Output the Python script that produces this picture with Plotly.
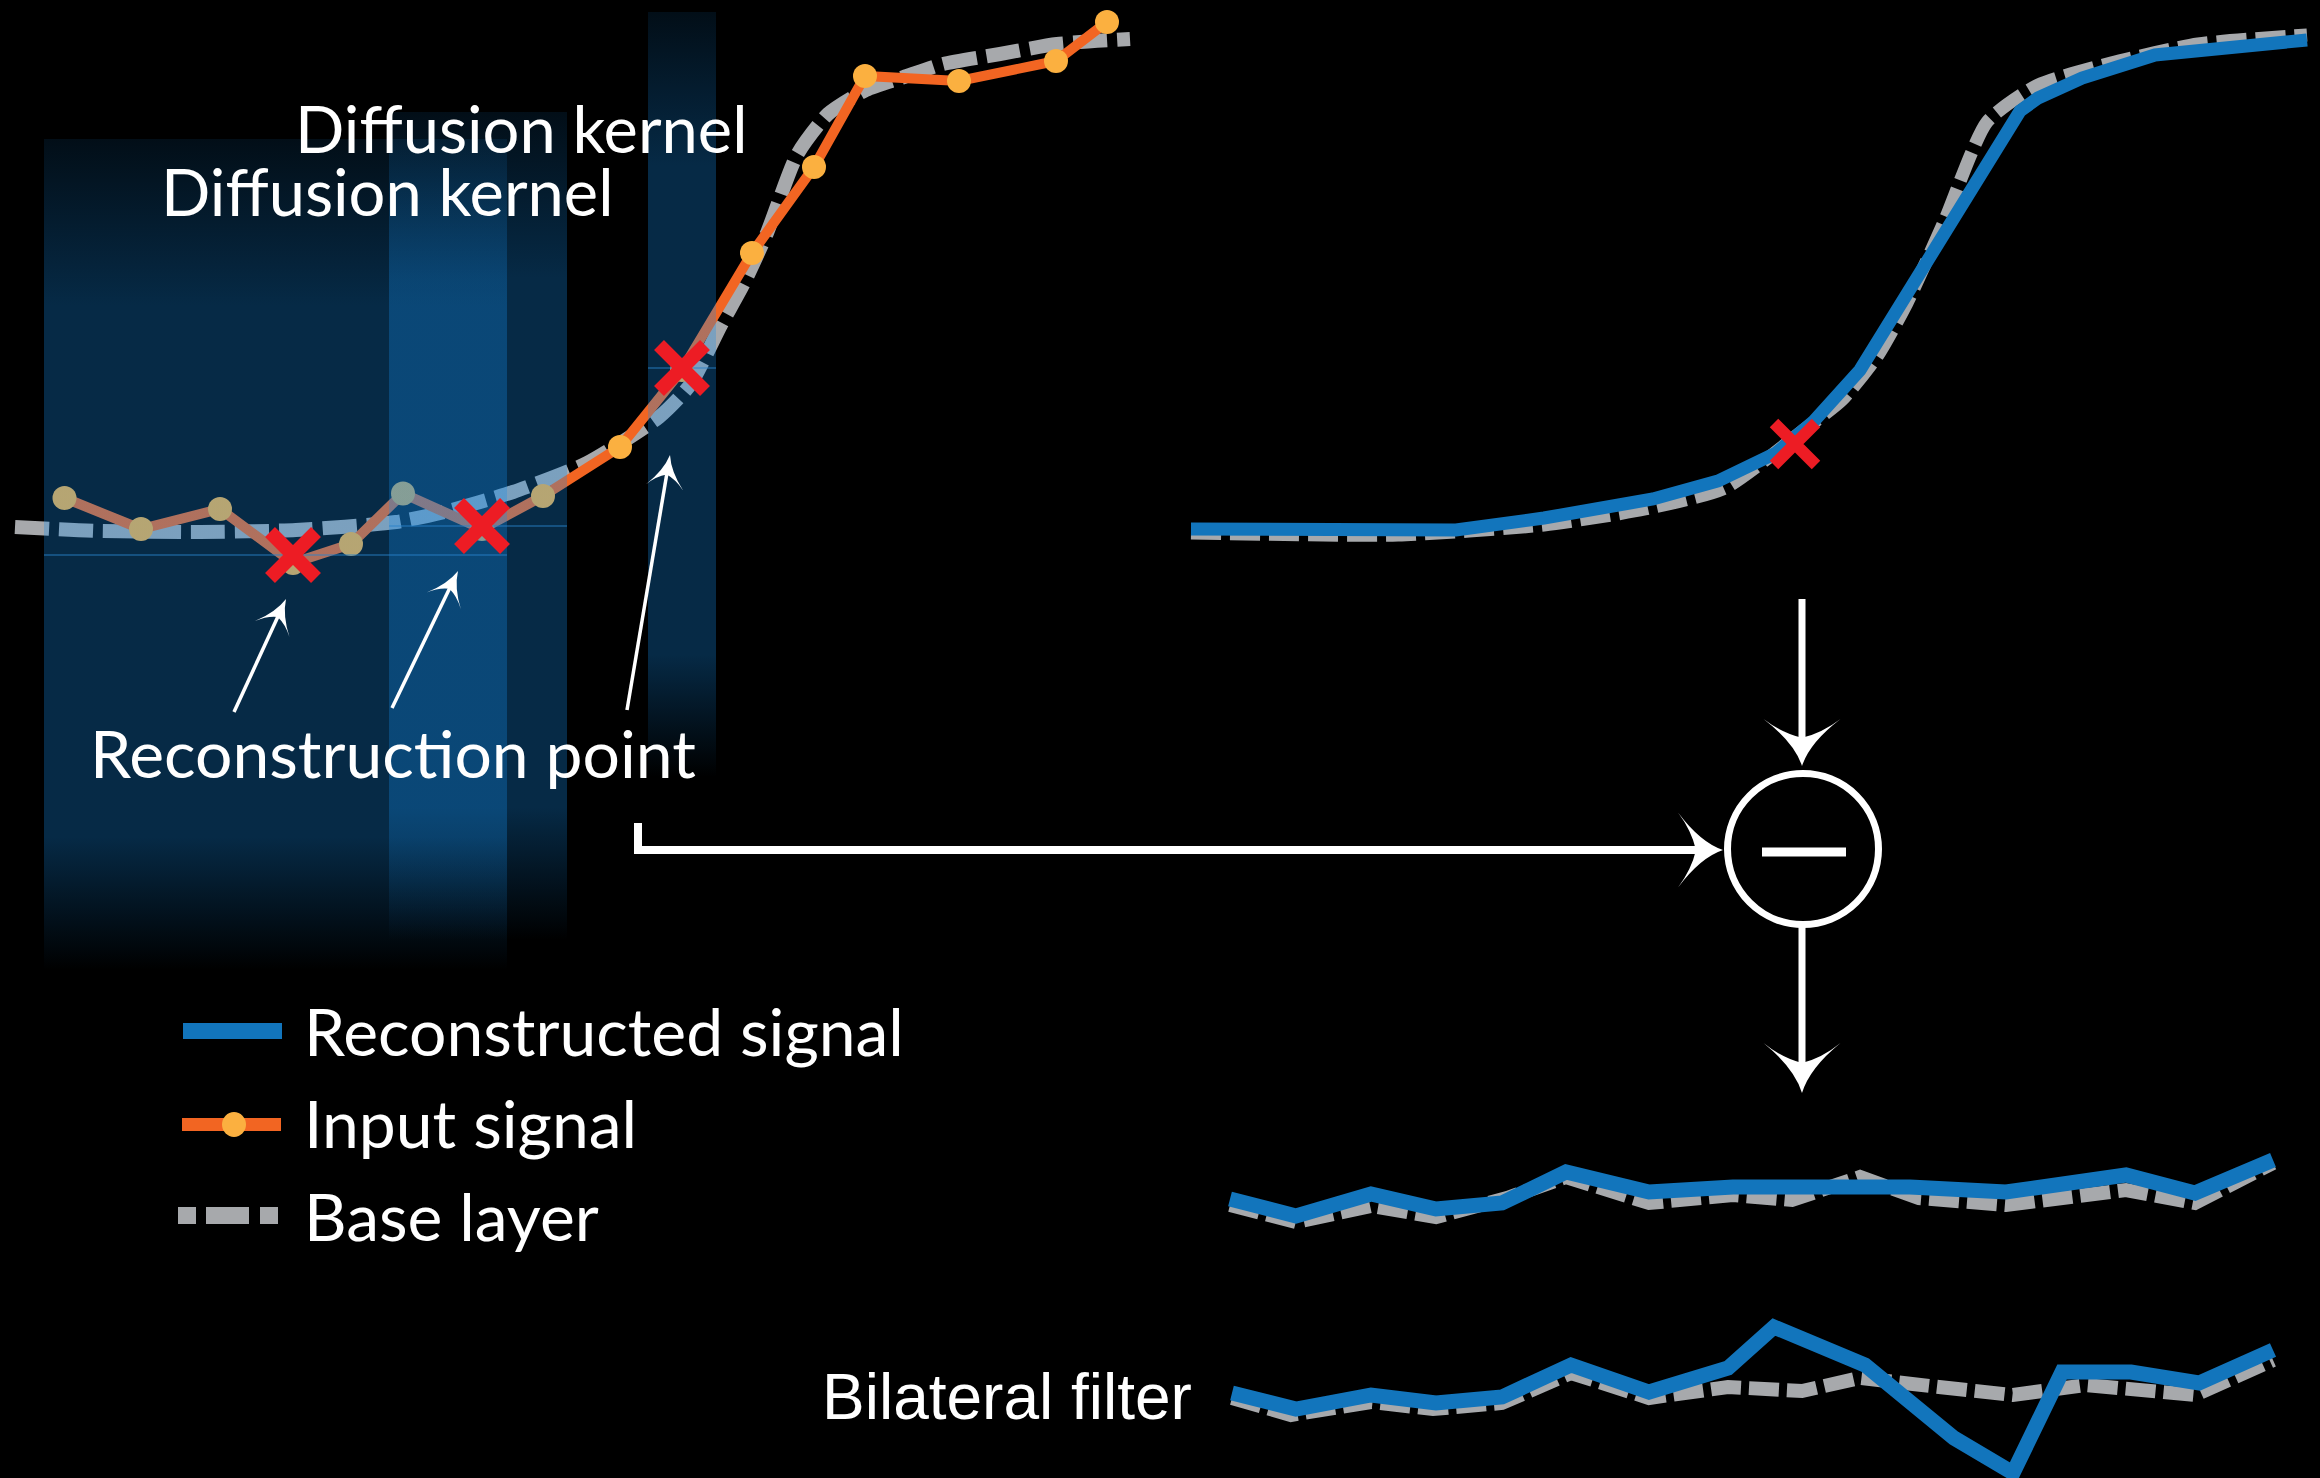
import math
import plotly.graph_objects as go

# ---------------- data ----------------
# Left panel: input signal samples (x in sample units, v = signal value)
in_x = [6.45, 14.1, 22.0, 29.3, 35.1, 40.3, 48.2, 54.3, 62.0, 68.2, 75.2, 81.4, 86.5, 95.9, 105.6, 110.7]
in_v = [0.124, 0.062, 0.102, -0.006, 0.032, 0.133, 0.062, 0.128, 0.226, 0.380, 0.614, 0.786, 0.968, 0.958, 0.998, 1.076]

# Left panel: base layer
base_l_x = [1.5, 10, 20, 29.6, 39.6, 44.4, 51.3, 58.7, 65.9, 69, 72.1, 74.4, 76.7, 79.7, 82.8, 86.6, 90.4, 94.3, 100, 105.7, 113]
base_l_v = [0.066, 0.058, 0.056, 0.060, 0.076, 0.096, 0.136, 0.194, 0.286, 0.350, 0.470, 0.554, 0.654, 0.810, 0.892, 0.940, 0.966, 0.992, 1.012, 1.032, 1.042]

# Diffusion kernels (x extent, vertical extent) and reconstruction points
kern_x0 = [4.4, 38.9, 64.8]
kern_x1 = [50.7, 56.7, 71.6]
kern_top = [0.842, 0.896, 1.096]
kern_bottom = [-0.82, -0.76, -0.434]
recon_x = [29.3, 48.2, 68.2]
recon_v = [0.010, 0.068, 0.384]

# Top right: base layer and reconstructed signal
tr_base_x = [1.1, 21.8, 36.4, 46.5, 54.5, 62.5, 66.2, 69.8, 72.7, 76.4, 80.7, 85.8, 93.1, 101.8, 112.7]
tr_base_v = [0.054, 0.050, 0.070, 0.102, 0.144, 0.262, 0.320, 0.410, 0.514, 0.676, 0.876, 0.950, 0.994, 1.032, 1.050]
tr_rec_x = [1.1, 27.6, 36.4, 47.3, 53.8, 59.6, 63.3, 68.0, 84.0, 85.8, 90.2, 97.5, 112.7]
tr_rec_v = [0.062, 0.060, 0.084, 0.122, 0.158, 0.214, 0.276, 0.380, 0.898, 0.924, 0.964, 1.010, 1.040]
tr_pt_x = [61.5]
tr_pt_v = [0.232]

# Detail layer (diffusion)
d1_x = [5.0, 11.6, 19.1, 25.6, 32.2, 38.6, 46.9, 55.3, 73.0, 82.6, 94.6, 101.5, 109.3]
d1_rec = [-0.18, -0.52, -0.08, -0.38, -0.26, 0.36, -0.04, 0.06, 0.06, -0.04, 0.30, -0.06, 0.60]
d1_base_x = [5.0, 11.6, 19.1, 25.6, 32.7, 38.6, 46.9, 55.3, 61.2, 68.0, 73.9, 82.6, 94.6, 101.5, 109.3]
d1_base = [-0.30, -0.64, -0.32, -0.54, -0.16, 0.26, -0.26, -0.10, -0.20, 0.26, -0.16, -0.30, 0.00, -0.26, 0.54]

# Detail layer (bilateral filter)
d2_x = [5.2, 11.6, 19.1, 25.6, 32.2, 39.1, 46.9, 54.8, 59.4, 68.5, 77.4, 83.3, 88.2, 95.1, 101.9, 109.3]
d2_rec = [-0.06, -0.38, -0.10, -0.26, -0.14, 0.50, -0.04, 0.44, 1.26, 0.50, -0.96, -1.66, 0.36, 0.36, 0.14, 0.80]
d2_base_x = [5.2, 11.1, 19.1, 25.3, 32.2, 39.1, 46.9, 54.8, 62.2, 68.0, 75.9, 83.3, 90.6, 101.5, 109.3]
d2_base = [-0.16, -0.50, -0.24, -0.38, -0.26, 0.34, -0.16, 0.06, -0.02, 0.24, 0.06, -0.10, 0.10, -0.10, 0.60]

legend_labels = ["Reconstructed signal", "Input signal", "Base layer"]

# ---------------- styles ----------------
BLUE = '#1275BC'
ORANGE = '#F26522'
MARK = '#FBB040'
RED = '#ED1C24'
GRAY = '#A7A9AC'
KC = '20,140,233'
FONT = 'Lato, "Open Sans", sans-serif'

fig = go.Figure()
NH = dict(hoverinfo='skip', showlegend=False)

# ---- left panel ----
fig.add_trace(go.Scatter(x=base_l_x, y=base_l_v, mode='lines',
                         line=dict(color=GRAY, width=14, dash='34px,10px', shape='spline', smoothing=0.6),
                         xaxis='x', yaxis='y', **NH))
fig.add_trace(go.Scatter(x=in_x, y=in_v, mode='lines+markers',
                         line=dict(color=ORANGE, width=10),
                         marker=dict(color=MARK, size=24, line=dict(width=0)),
                         xaxis='x', yaxis='y', **NH))
for x0, x1, t, b in zip(kern_x0, kern_x1, kern_top, kern_bottom):
    fig.add_trace(go.Scatter(x=[x0, x1, x1, x0, x0], y=[b, b, t, t, b], mode='none', fill='toself',
                             fillgradient=dict(type='vertical', start=b, stop=t,
                                               colorscale=[[0, f'rgba({KC},0)'], [0.16, f'rgba({KC},0.30)'],
                                                           [0.80, f'rgba({KC},0.30)'], [1, f'rgba({KC},0.10)']]),
                             xaxis='x', yaxis='y', **NH))
for x0, x1, v in zip(kern_x0, kern_x1, recon_v):
    fig.add_trace(go.Scatter(x=[x0, x1], y=[v, v], mode='lines',
                             line=dict(color='rgba(40,130,200,0.6)', width=1.5),
                             xaxis='x', yaxis='y', **NH))
fig.add_trace(go.Scatter(x=recon_x, y=recon_v, mode='markers',
                         marker=dict(symbol='x-thin', size=46, line=dict(color=RED, width=14)),
                         xaxis='x', yaxis='y', **NH))

# ---- top right ----
fig.add_trace(go.Scatter(x=tr_base_x, y=tr_base_v, mode='lines',
                         line=dict(color=GRAY, width=13, dash='30px,9px', shape='spline', smoothing=0.6),
                         xaxis='x2', yaxis='y2', **NH))
fig.add_trace(go.Scatter(x=tr_rec_x, y=tr_rec_v, mode='lines',
                         line=dict(color=BLUE, width=13),
                         xaxis='x2', yaxis='y2', **NH))
fig.add_trace(go.Scatter(x=tr_pt_x, y=tr_pt_v, mode='markers',
                         marker=dict(symbol='x-thin', size=42, line=dict(color=RED, width=12)),
                         xaxis='x2', yaxis='y2', **NH))

# ---- detail panels ----
for bx, bv, rx, rv, xa, ya in [(d1_base_x, d1_base, d1_x, d1_rec, 'x3', 'y3'),
                               (d2_base_x, d2_base, d2_x, d2_rec, 'x4', 'y4')]:
    fig.add_trace(go.Scatter(x=bx, y=bv, mode='lines',
                             line=dict(color=GRAY, width=14, dash='30px,8px'),
                             xaxis=xa, yaxis=ya, **NH))
    fig.add_trace(go.Scatter(x=rx, y=rv, mode='lines',
                             line=dict(color=BLUE, width=15),
                             xaxis=xa, yaxis=ya, **NH))

# ---------------- decorations (canvas axis x5/y5 in pixels) ----------------
shapes = []
C = dict(xref='x5', yref='y5', layer='above')


def arrow_head(tip, tail, L, W):
    tx, ty = tip
    dx, dy = tip[0] - tail[0], tip[1] - tail[1]
    n = math.hypot(dx, dy)
    ux, uy = dx / n, dy / n
    px, py = -uy, ux

    def P(a, b):
        return f"{tx + a * ux + b * px:.2f},{ty + a * uy + b * py:.2f}"
    path = (f"M{P(0, 0)} Q{P(-0.5 * L, 0.1 * W)} {P(-L, 0.5 * W)} "
            f"Q{P(-0.7 * L, 0.26 * W)} {P(-0.6 * L, 0)} "
            f"Q{P(-0.7 * L, -0.26 * W)} {P(-L, -0.5 * W)} "
            f"Q{P(-0.5 * L, -0.1 * W)} {P(0, 0)} Z")
    notch = (tx - 0.5 * L * ux, ty - 0.5 * L * uy)
    return path, notch


def arrow(tail, tip, L, W, lw, pre=None):
    path, notch = arrow_head(tip, tail, L, W)
    pts = (pre or []) + [tail, notch]
    lp = "M" + " L".join(f"{x:.2f},{y:.2f}" for x, y in pts)
    shapes.append(dict(type='path', path=lp, line=dict(color='white', width=lw), **C))
    shapes.append(dict(type='path', path=path, fillcolor='white', line=dict(width=0), **C))


# thin arrows to the reconstruction points
for tail, tip in [((234, 712), (286, 599)), ((392, 708), (458, 571)), ((627, 710), (670, 455))]:
    arrow(tail, tip, 33, 38, 3.5)

# flow arrows
arrow((1802, 599), (1802, 766), 47, 77, 7)
arrow((1802, 927), (1802, 1093), 50, 77, 7)
arrow((638, 850), (1723, 850), 45, 75, 8, pre=[(638, 823)])

# subtraction node
shapes.append(dict(type='circle', x0=1727.5, x1=1878.5, y0=773.5, y1=924.5,
                   line=dict(color='white', width=7), **C))
shapes.append(dict(type='line', x0=1762, x1=1846, y0=852, y1=852,
                   line=dict(color='white', width=9), **C))

# legend keys
shapes.append(dict(type='rect', x0=183, x1=282, y0=1023, y1=1039, fillcolor=BLUE, line=dict(width=0), **C))
shapes.append(dict(type='rect', x0=182, x1=281, y0=1118, y1=1131, fillcolor=ORANGE, line=dict(width=0), **C))
shapes.append(dict(type='circle', x0=222, x1=246, y0=1112, y1=1137, fillcolor=MARK, line=dict(width=0), **C))
for a, b in [(178, 196), (206, 249), (260, 278)]:
    shapes.append(dict(type='rect', x0=a, x1=b, y0=1207, y1=1224, fillcolor=GRAY, line=dict(width=0), **C))

annotations = []


def label(text, x, y, size, family=FONT):
    annotations.append(dict(text=text, x=x, y=y, xref='x5', yref='y5', xanchor='left', yanchor='middle',
                            showarrow=False, font=dict(family=family, size=size, color='white')))


label("Diffusion kernel", 293, 127.5, 65)
label("Diffusion kernel", 159, 190.5, 65)
label("Reconstruction point", 88, 752, 66)
for t, yy in zip(legend_labels, [1030, 1122, 1215]):
    label(t, 302, yy, 66)
label("Bilateral filter", 820, 1397, 64, family='"Liberation Sans", Arial, sans-serif')

hid = dict(visible=False, showgrid=False, zeroline=False, fixedrange=True)
fig.update_layout(
    width=2320, height=1478, autosize=False,
    margin=dict(l=0, r=0, t=0, b=0, pad=0),
    paper_bgcolor='black', plot_bgcolor='rgba(0,0,0,0)',
    showlegend=False,
    xaxis=dict(domain=[0, 0.5], range=[0, 116], anchor='y', **hid),
    yaxis=dict(domain=[0.32341, 1], range=[-0.88, 1.12], anchor='x', **hid),
    xaxis2=dict(domain=[0.508621, 1], range=[0, 114], anchor='y2', **hid),
    yaxis2=dict(domain=[0.594046, 1], range=[-0.08, 1.12], anchor='x2', **hid),
    xaxis3=dict(domain=[0.508621, 1], range=[0, 114], anchor='y3', **hid),
    yaxis3=dict(domain=[0.133965, 0.255751], range=[-1.8, 1.8], anchor='x3', **hid),
    xaxis4=dict(domain=[0.508621, 1], range=[0, 114], anchor='y4', **hid),
    yaxis4=dict(domain=[0, 0.127199], range=[-1.76, 2.0], anchor='x4', **hid),
    xaxis5=dict(domain=[0, 1], range=[0, 2320], anchor='y5', **hid),
    yaxis5=dict(domain=[0, 1], range=[1478, 0], anchor='x5', **hid),
    shapes=shapes,
    annotations=annotations,
)

fig.write_html("out.html", config={'displayModeBar': False},
               post_script="document.body.style.margin='0';document.body.style.overflow='hidden';")
